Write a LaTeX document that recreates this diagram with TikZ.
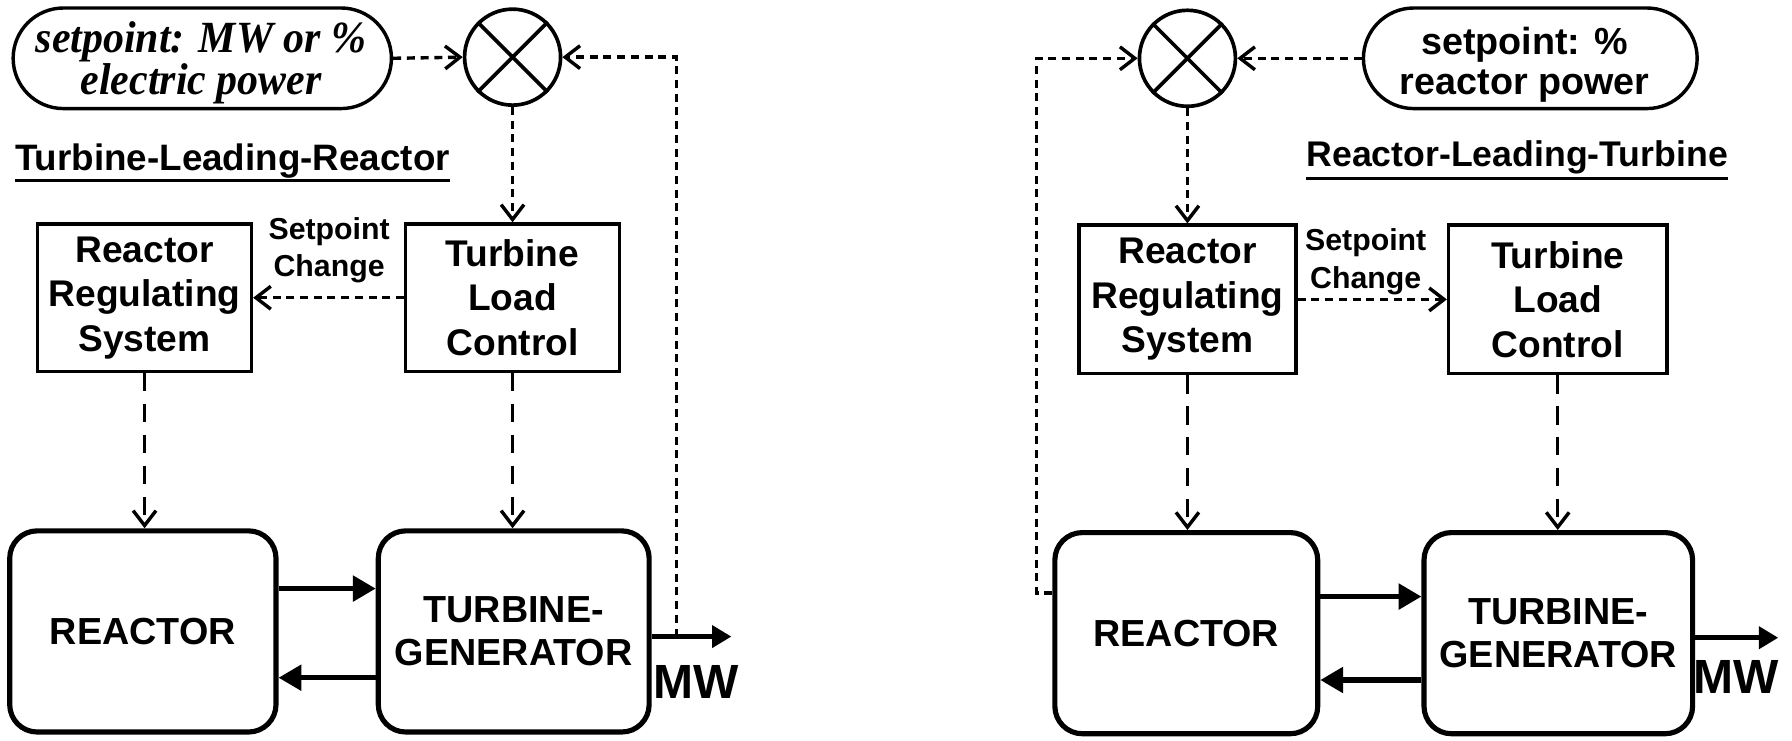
\documentclass[tikz,border=0pt]{standalone}
\usepackage{fontspec}
\setmainfont{Liberation Sans}
\newfontfamily\serifbi{Liberation Serif}[FakeStretch=0.94]
\usetikzlibrary{arrows.meta,shapes.misc}
\begin{document}
\begin{tikzpicture}[x=1pt,y=-1pt,
 box/.style={draw, line width=3pt, minimum width=187pt, minimum height=129pt, align=center, font=\bfseries\fontsize{32.5}{39}\selectfont, inner sep=0pt},
 bigbox/.style={draw, line width=4.5pt, rounded corners=24pt, align=center, font=\bfseries\fontsize{33}{38}\selectfont, inner sep=0pt, minimum height=176pt},
 sumnode/.style={draw, circle, line width=3.2pt, minimum size=84pt, inner sep=0pt},
 oval/.style={draw, rounded rectangle, line width=3pt, minimum height=88pt, inner sep=0pt},
 ovaltxt/.style={align=center, inner sep=0pt},
 lbl/.style={align=center, inner sep=0pt, font=\bfseries\fontsize{26.5}{33}\selectfont},
 ttl/.style={anchor=base west, inner sep=0pt},
 mwlbl/.style={inner sep=0pt, font=\bfseries\fontsize{42}{42}\selectfont},
 dotl/.style={line width=3pt, dash pattern=on 7pt off 5pt},
 dashl/.style={line width=3pt, dash pattern=on 16pt off 11pt},
 vtip/.style={-{Straight Barb[length=13pt,width=20pt]}},
 solidarr/.style={line width=4.5pt, -{Triangle[length=20pt,width=22pt]}},
 mwarr/.style={line width=4.5pt, -{Triangle[length=17pt,width=19pt]}},
]
\useasboundingbox (0,0) rectangle (1568,648);

% ---------- left: Turbine-Leading-Reactor ----------
\node[oval, minimum width=331pt] (ovalA) at (177,51) {};
\node[ovaltxt, font=\serifbi\bfseries\itshape\fontsize{39}{33}\selectfont] (ovalAtxt) at (176,55) {setpoint: MW or \%\\electric power};
\node[sumnode] (sumA) at (448.5,50) {};
\draw[line width=3.2pt] (sumA.45) -- (sumA.225) (sumA.135) -- (sumA.315);
\node[ttl, font=\bfseries\fontsize{32.2}{32}\selectfont] (titleA) at (13,149) {Turbine-Leading-Reactor};
\draw[line width=2.5pt] ([yshift=-9pt]titleA.base west) -- ([yshift=-9pt]titleA.base east);
\node[box] (rrsA) at (126.5,260.5) {Reactor\\Regulating\\System};
\node[box] (tlcA) at (448.5,260.5) {Turbine\\Load\\Control};
\node[lbl] (spA) at (288,219) {Setpoint\\Change};
\node[bigbox, minimum width=233pt] (reactorA) at (125,552.5) {REACTOR};
\node[bigbox, minimum width=237pt] (tgA) at (449.5,552.5) {TURBINE-\\GENERATOR};
\coordinate (yA1) at (0,515);
\coordinate (yA2) at (0,593);
\coordinate (mwendA) at (640,557);
\coordinate (fbA) at (592,557);
\node[mwlbl] (mwA) at (609,597) {MW};

\draw[dotl, vtip] (ovalA.east) -- (sumA.west);
\draw[dotl, vtip] (sumA.south) -- (tlcA.north);
\draw[dotl, vtip] (tlcA.west) -- (rrsA.east);
\draw[dashl, vtip] (rrsA.south) -- (rrsA.south |- reactorA.north);
\draw[dashl, vtip] (tlcA.south) -- (tlcA.south |- tgA.north);
\draw[solidarr] (reactorA.east |- yA1) -- (tgA.west |- yA1);
\draw[solidarr] (tgA.west |- yA2) -- (reactorA.east |- yA2);
\draw[mwarr] (tgA.east |- mwendA) -- (mwendA);
\draw[dotl, vtip] (fbA) -- (fbA |- sumA.east) -- (sumA.east);

% ---------- right: Reactor-Leading-Turbine ----------
\node[sumnode] (sumB) at (1039,51) {};
\draw[line width=3.2pt] (sumB.45) -- (sumB.225) (sumB.135) -- (sumB.315);
\node[oval, minimum width=292pt] (ovalB) at (1339,51) {};
\node[ovaltxt, font=\bfseries\fontsize{33}{35}\selectfont] (ovalBtxt) at (1334,57) {setpoint: \%\\reactor power};
\node[ttl, font=\bfseries\fontsize{31.2}{31}\selectfont] (titleB) at (1143,146) {Reactor-Leading-Turbine};
\draw[line width=2.5pt] ([yshift=-10pt]titleB.base west) -- ([yshift=-10pt]titleB.base east);
\node[box, minimum width=190pt, minimum height=130pt] (rrsB) at (1039,262) {Reactor\\Regulating\\System};
\node[box, minimum width=191pt, minimum height=130pt] (tlcB) at (1363,262) {Turbine\\Load\\Control};
\node[lbl] (spB) at (1195,229) {Setpoint\\Change};
\node[bigbox, minimum width=230pt] (reactorB) at (1038,554) {REACTOR};
\node[bigbox, minimum width=235pt] (tgB) at (1363.5,554) {TURBINE-\\GENERATOR};
\coordinate (yB1) at (0,522);
\coordinate (yB2) at (0,595);
\coordinate (yB3) at (0,519);
\coordinate (mwendB) at (1556,558);
\coordinate (fbB) at (907,519);
\node[mwlbl] (mwB) at (1519,592) {MW};

\draw[dotl, vtip] (ovalB.west) -- (sumB.east);
\draw[dotl, vtip] (sumB.south) -- (rrsB.north);
\draw[dotl, vtip] (rrsB.east) -- (tlcB.west);
\draw[dashl, vtip] (rrsB.south) -- (rrsB.south |- reactorB.north);
\draw[dashl, vtip] (tlcB.south) -- (tlcB.south |- tgB.north);
\draw[solidarr] (reactorB.east |- yB1) -- (tgB.west |- yB1);
\draw[solidarr] (tgB.west |- yB2) -- (reactorB.east |- yB2);
\draw[mwarr] (tgB.east |- mwendB) -- (mwendB);
\draw[dotl, vtip] (reactorB.west |- yB3) -- (fbB) -- (fbB |- sumB.west) -- (sumB.west);
\end{tikzpicture}
\end{document}
